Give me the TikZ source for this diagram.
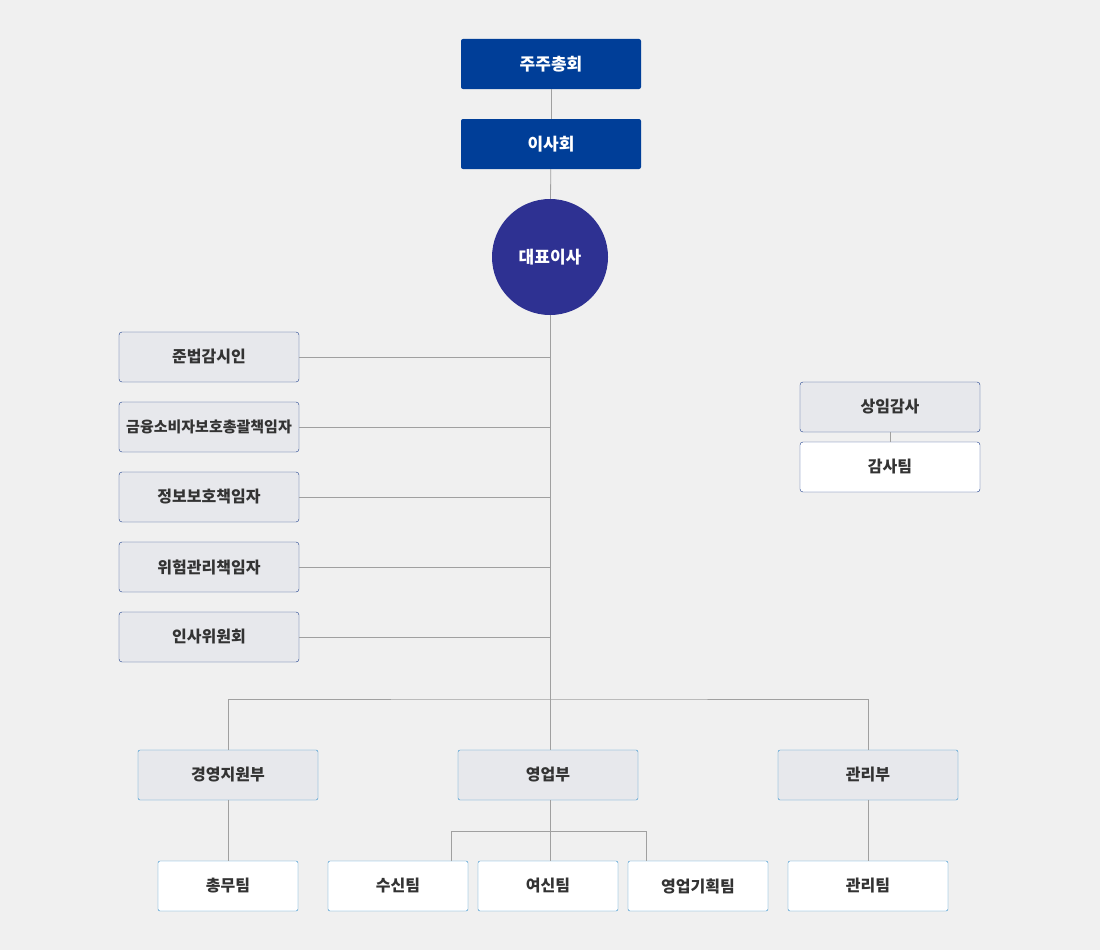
\documentclass[tikz,border=0pt]{standalone}
\usepackage{fontspec}
\setmainfont{Noto Sans CJK KR}
\usetikzlibrary{positioning}
\definecolor{navy}{HTML}{003E98}
\definecolor{ceo}{HTML}{2E3192}
\definecolor{boxgray}{HTML}{E7E8EC}
\definecolor{edgeblue}{HTML}{1E3F8C}
\definecolor{skyblue}{HTML}{2C8BC9}
\definecolor{bg}{HTML}{F0F0F0}
\definecolor{wire}{HTML}{A0A0A0}
\definecolor{ink}{HTML}{333333}
\begin{document}
\begin{tikzpicture}[x=1pt,y=-1pt,
  top/.style={fill=navy,text=white,font=\fontsize{17}{17}\selectfont\bfseries,minimum width=180pt,minimum height=50pt,rounded corners=2pt,inner sep=0pt},
  staff/.style={draw=edgeblue,fill=boxgray,text=ink,font=\fontsize{16}{16}\selectfont\bfseries,minimum width=180pt,minimum height=50pt,rounded corners=3pt,inner sep=0pt},
  audit/.style={staff,fill=white},
  dept/.style={draw=skyblue,fill=boxgray,text=ink,font=\fontsize{16}{16}\selectfont\bfseries,minimum width=180pt,minimum height=50pt,rounded corners=2pt,inner sep=0pt},
  team/.style={dept,fill=white,minimum width=140pt},
  link/.style={draw=wire,line width=0.8pt}]
\fill [bg] (0,0) rectangle (1100,950);
\node [top] (meeting) at (551,64) {주주총회};
\node [top] (board) at (551,144) {이사회};
\node [circle,fill=ceo,text=white,font=\fontsize{17}{17}\selectfont\bfseries,minimum size=116pt,inner sep=0pt] (ceo) at (550,257) {대표이사};
\node [staff] (comp) at (209,357) {준법감시인};
\node [staff,font=\fontsize{15}{15}\selectfont\bfseries] (cons) at (209,427) {금융소비자보호총괄책임자};
\node [staff] (info) at (209,497) {정보보호책임자};
\node [staff] (risk) at (209,567) {위험관리책임자};
\node [staff] (hr) at (209,637) {인사위원회};
\node [staff] (auditor) at (890,407) {상임감사};
\node [audit] (auditteam) at (890,467) {감사팀};
\coordinate (bus) at (550,699);
\node [dept] (mgmt) at (228,775) {경영지원부};
\node [dept] (sales) at (548,775) {영업부};
\node [dept] (admin) at (868,775) {관리부};
\node [team] (general) at (228,886) {총무팀};
\node [team] (deposit) at (398,886) {수신팀};
\node [team] (loan) at (548,886) {여신팀};
\node [team] (plan) at (698,886) {영업기획팀};
\node [team,minimum width=160pt] (adminteam) at (868,886) {관리팀};
% vertical trunk
\draw [link] (meeting) -- (board);
\draw [link] (board) -- (ceo);
\draw [link] (ceo) -- (bus);
\foreach \n in {comp,cons,info,risk,hr}
  \draw [link] (\n.east) -- (\n.east -| ceo);
\draw [link] (auditor) -- (auditteam);
% departments
\draw [link] (mgmt.north) |- (bus) -| (admin.north);
\draw [link] (bus) -- (bus |- sales.north);
\draw [link] (mgmt) -- (general);
\draw [link] (admin) -- (adminteam);
\draw [link] (sales.south -| bus) -- (550,831);
\draw [link] (451,861) |- (550,831) -| (646,861);
\draw [link] (550,831) -- (550,861);
\end{tikzpicture}
\end{document}
